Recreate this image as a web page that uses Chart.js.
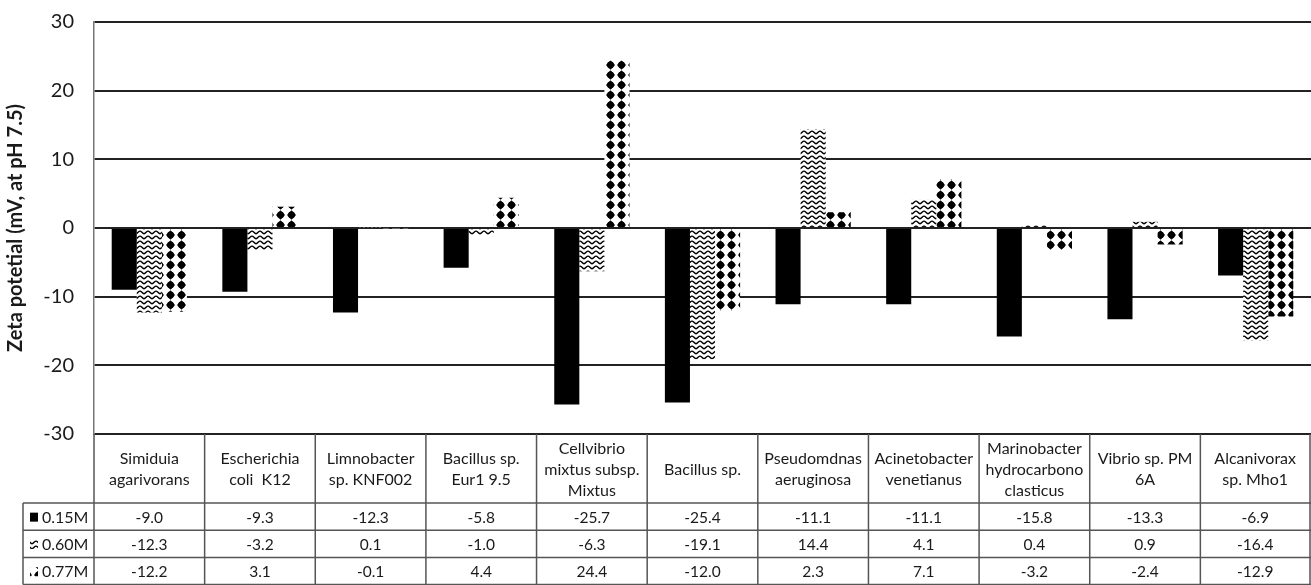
<!DOCTYPE html>
<html><head><meta charset="utf-8">
<script src="https://cdn.jsdelivr.net/npm/chart.js@4.4.0/dist/chart.umd.min.js"></script>
<style>html,body{margin:0;padding:0;background:#fff;overflow:hidden}#wrap{width:1311px;height:585px;position:relative}</style>
</head><body><div id="wrap"><canvas id="c"></canvas></div>
<script>
const categories = [["Simiduia","agarivorans"],["Escherichia","coli  K12"],["Limnobacter","sp. KNF002"],["Bacillus sp.","Eur1 9.5"],["Cellvibrio","mixtus subsp.","Mixtus"],["Bacillus sp."],["Pseudomdnas","aeruginosa"],["Acinetobacter","venetianus"],["Marinobacter","hydrocarbono","clasticus"],["Vibrio sp. PM","6A"],["Alcanivorax","sp. Mho1"]];
const seriesNames = ["0.15M","0.60M","0.77M"];
const s015 = [-9.0,-9.3,-12.3,-5.8,-25.7,-25.4,-11.1,-11.1,-15.8,-13.3,-6.9];
const s060 = [-12.3,-3.2,0.1,-1.0,-6.3,-19.1,14.4,4.1,0.4,0.9,-16.4];
const s077 = [-12.2,3.1,-0.1,4.4,24.4,-12.0,2.3,7.1,-3.2,-2.4,-12.9];
const yTicks = [-30,-20,-10,0,10,20,30];
const yTitle = "Zeta potetial (mV, at pH 7.5)";

const canvas = document.getElementById('c');
const mainCtx = canvas.getContext('2d');

function makeWave(){
  const c=document.createElement('canvas'); c.width=8; c.height=5;
  const g=c.getContext('2d'); g.fillStyle='#fff'; g.fillRect(0,0,8,5);
  g.strokeStyle='#000'; g.lineWidth=1.4;
  g.beginPath(); g.moveTo(-0.5,3.9); g.bezierCurveTo(1.5,3.9,2.5,1.1,4,1.1); g.bezierCurveTo(5.5,1.1,6.5,3.9,8.5,3.9); g.stroke();
  return mainCtx.createPattern(c,'repeat');
}
function makeDiamond(){
  const c=document.createElement('canvas'); c.width=11; c.height=10;
  const g=c.getContext('2d'); g.fillStyle='#fff'; g.fillRect(0,0,11,10);
  g.fillStyle='#000';
  g.beginPath(); g.moveTo(5.5,0.3); g.lineTo(10,5); g.lineTo(5.5,9.7); g.lineTo(1,5); g.closePath(); g.fill();
  g.beginPath(); g.arc(5.5,5,3.4,0,Math.PI*2); g.fill();
  return mainCtx.createPattern(c,'repeat');
}
const wavePat = makeWave();
const diaPat = makeDiamond();
const fills = ['#000', wavePat, diaPat];

const tablePlugin = {
  id:'dataTable',
  afterDraw(chart){
    const ctx=chart.ctx, xs=chart.scales.x, ca=chart.chartArea;
    const n=categories.length;
    const b=[];
    for(let i=0;i<=n;i++){
      if(i===0) b.push(ca.left);
      else if(i===n) b.push(ca.right-1);
      else b.push((xs.getPixelForValue(i-1)+xs.getPixelForValue(i))/2);
    }
    const top=ca.bottom, hdrB=503, rowH=27.3, legL=23, bot=584.5;
    ctx.save();
    ctx.strokeStyle='#555'; ctx.lineWidth=1.5;
    ctx.beginPath();
    [hdrB, hdrB+rowH, hdrB+2*rowH, bot].forEach(y=>{ctx.moveTo(legL,y);ctx.lineTo(ca.right,y);});
    ctx.moveTo(legL,hdrB); ctx.lineTo(legL,bot);
    b.forEach(x=>{ctx.moveTo(x,top);ctx.lineTo(x,bot);});
    ctx.stroke();
    ctx.fillStyle='#1a1a1a'; ctx.textAlign='center'; ctx.textBaseline='middle';
    ctx.font='16px Lato';
    const hc=(top+hdrB)/2+1, lh=21;
    categories.forEach((lines,i)=>{
      const cx=(b[i]+b[i+1])/2;
      const y0=hc-(lines.length-1)*lh/2;
      lines.forEach((t,k)=>ctx.fillText(t,cx,y0+k*lh));
    });
    const series=[s015,s060,s077];
    series.forEach((arr,r)=>{
      const cy=hdrB+rowH*r+rowH/2+1;
      ctx.font='15.5px Lato'; ctx.textAlign='center'; ctx.fillStyle='#1a1a1a';
      arr.forEach((v,i)=>{
        const cx=(b[i]+b[i+1])/2;
        ctx.fillText(v.toFixed(1),cx,cy);
      });
      ctx.fillStyle=fills[r];
      ctx.fillRect(30,cy-5,8,9);
      ctx.fillStyle='#1a1a1a';
      ctx.textAlign='left';
      ctx.font='16px Lato';
      ctx.fillText(seriesNames[r],42,cy);
    });
    ctx.restore();
  }
};

new Chart(canvas,{
  type:'bar',
  data:{
    labels:categories.map(c=>c.join(' ')),
    datasets:[s015,s060,s077].map((d,i)=>({
      label:seriesNames[i], data:d, backgroundColor:fills[i], borderWidth:0,
      categoryPercentage:0.68, barPercentage:1.0
    }))
  },
  options:{
    responsive:true, maintainAspectRatio:false, animation:false, devicePixelRatio:1,
    layout:{padding:{top:22,right:0,bottom:151,left:0}},
    plugins:{legend:{display:false},tooltip:{enabled:false},title:{display:false}},
    scales:{
      x:{display:false, offset:true, grid:{display:false}},
      y:{
        min:-30,max:30,
        afterBuildTicks(s){s.ticks=yTicks.map(v=>({value:v}));},
        afterFit(s){s.width=94; s.paddingTop=0; s.paddingBottom=0;},
        ticks:{font:{family:'Lato',size:20},color:'#1a1a1a',padding:20},
        grid:{color:'#222',lineWidth:2,drawTicks:false},
        border:{display:true,color:'#777',width:1.5},
        title:{display:true,text:yTitle,font:{family:'Lato',size:20,weight:'bold'},color:'#1a1a1a',padding:{top:4,bottom:0}}
      }
    }
  },
  plugins:[tablePlugin]
});
</script></body></html>
